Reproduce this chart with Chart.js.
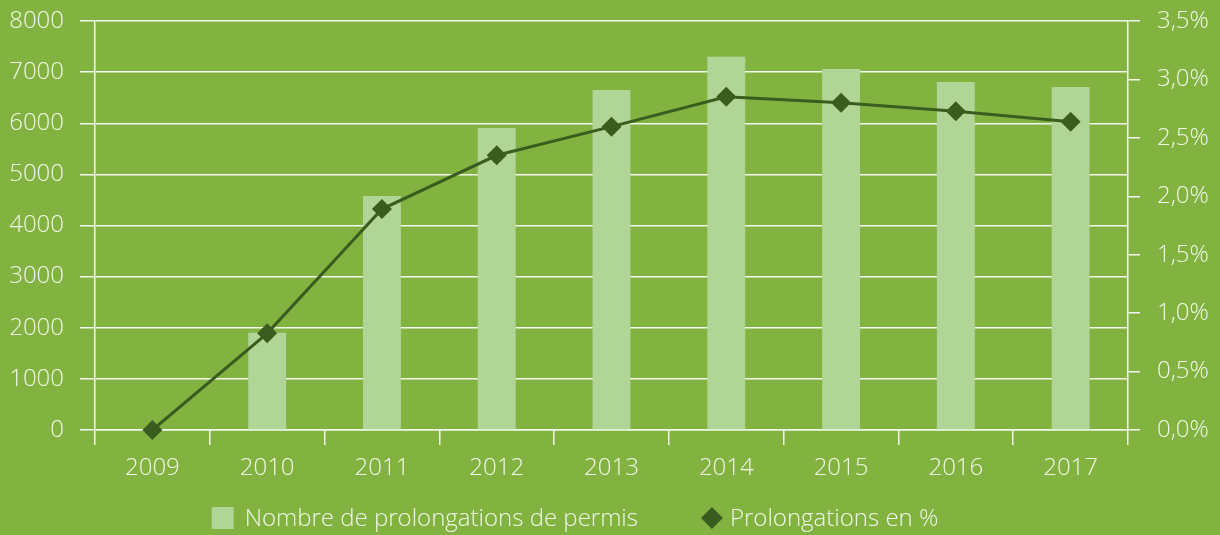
<!DOCTYPE html>
<html>
<head>
<meta charset="utf-8">
<script src="https://cdn.jsdelivr.net/npm/chart.js@4.4.1/dist/chart.umd.min.js"></script>
<style>
  html, body { margin: 0; padding: 0; background: #82b341; }
  #wrap { width: 1220px; height: 535px; position: relative; }
</style>
</head>
<body>
<div id="wrap"><canvas id="chart"></canvas></div>
<script>
// data
const years = ["2009", "2010", "2011", "2012", "2013", "2014", "2015", "2016", "2017"];
const permitExtensions = [0, 1900, 4577, 5907, 6650, 7302, 7061, 6807, 6709];
const extensionShare = [0, 0.827, 1.891, 2.351, 2.596, 2.852, 2.801, 2.727, 2.638];
const seriesNames = ["Nombre de prolongations de permis", "Prolongations en %"];

const BAR = "#b0d596";
const LINE = "#3a5d1f";
const GRID = "#f4f8ec";
const TEXT = "#f2f7e8";
const FONT = "'Open Sans', 'Liberation Sans', sans-serif";

// simple one-row legend drawn under the axis
const bottomLegend = {
  id: "bottomLegend",
  afterDraw(chart) {
    const ctx = chart.ctx;
    ctx.save();
    ctx.font = "300 24px " + FONT;
    ctx.textBaseline = "middle";
    const w1 = ctx.measureText(seriesNames[0]).width;
    const w2 = ctx.measureText(seriesNames[1]).width;
    const total = 22 + 11 + w1 + 63 + 22 + 7 + w2;
    let x = 575 - total / 2;
    const y = 518;
    ctx.fillStyle = BAR;
    ctx.fillRect(x, y - 11, 22, 22);
    x += 33;
    ctx.fillStyle = TEXT;
    ctx.fillText(seriesNames[0], x, y + 1);
    x += w1 + 63;
    ctx.fillStyle = LINE;
    ctx.beginPath();
    ctx.moveTo(x + 11, y - 11);
    ctx.lineTo(x + 22, y);
    ctx.lineTo(x + 11, y + 11);
    ctx.lineTo(x, y);
    ctx.closePath();
    ctx.fill();
    x += 29;
    ctx.fillStyle = TEXT;
    ctx.fillText(seriesNames[1], x, y + 1);
    ctx.restore();
  }
};

// fixed axis sizes so the plot area sits where the reference has it
function fixWidth(w) {
  return (s) => {
    s.width = w;
    s.paddingTop = 0;
    s.paddingBottom = 0;
  };
}

new Chart(document.getElementById("chart"), {
  data: {
    labels: years,
    datasets: [
      {
        type: "line",
        label: seriesNames[1],
        data: extensionShare,
        yAxisID: "y1",
        borderColor: LINE,
        borderWidth: 3,
        backgroundColor: LINE,
        pointStyle: "rectRot",
        pointRadius: 10,
        pointHoverRadius: 10,
        pointBorderWidth: 0,
        tension: 0,
        clip: false,
        order: 0,
      },
      {
        type: "bar",
        label: seriesNames[0],
        data: permitExtensions,
        yAxisID: "y",
        backgroundColor: BAR,
        barPercentage: 0.33,
        categoryPercentage: 1,
        order: 1,
      },
    ],
  },
  options: {
    responsive: true,
    maintainAspectRatio: false,
    animation: false,
    layout: { padding: { top: 21, left: 0, right: 0, bottom: 0 } },
    plugins: {
      legend: { display: false },
      tooltip: { enabled: false },
    },
    scales: {
      x: {
        offset: true,
        grid: {
          offset: true,
          drawOnChartArea: false,
          color: GRID,
          lineWidth: 1.5,
          tickLength: 15,
        },
        border: { display: true, color: GRID, width: 1.5 },
        ticks: { color: TEXT, font: { family: FONT, size: 24, weight: 300 }, padding: 9 },
        afterFit(s) { s.height = 105; },
      },
      y: {
        position: "left",
        min: 0,
        max: 8000,
        ticks: {
          stepSize: 1000,
          color: TEXT,
          font: { family: FONT, size: 24, weight: 300 },
          padding: 16,
          callback: (v) => String(v),
        },
        grid: { color: GRID, lineWidth: 1.5, tickLength: 15 },
        border: { display: true, color: GRID, width: 1.5 },
        afterFit: fixWidth(95),
      },
      y1: {
        position: "right",
        min: 0,
        max: 3.5,
        ticks: {
          stepSize: 0.5,
          color: TEXT,
          font: { family: FONT, size: 24, weight: 300 },
          padding: 17,
          callback: (v) => v.toFixed(1).replace(".", ",") + "%",
        },
        grid: { drawOnChartArea: false, color: GRID, lineWidth: 1.5, tickLength: 12 },
        border: { display: true, color: GRID, width: 1.5 },
        afterFit: fixWidth(92),
      },
    },
  },
  plugins: [bottomLegend],
});
</script>
</body>
</html>
